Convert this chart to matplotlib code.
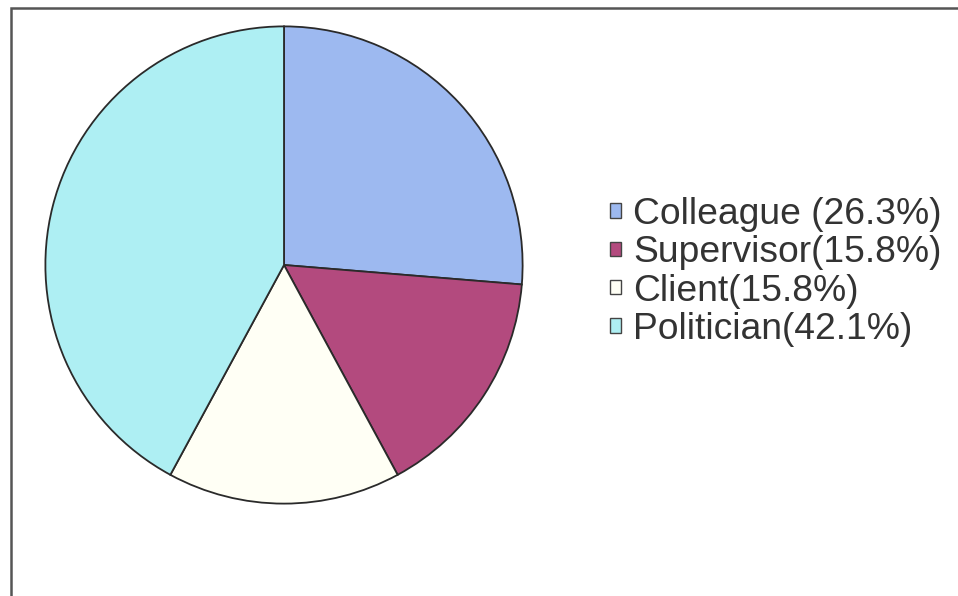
import matplotlib
matplotlib.use('Agg')
import matplotlib.pyplot as plt
from matplotlib.patches import Rectangle

plt.rcParams['font.family'] = ['Liberation Sans', 'DejaVu Sans']

# Data
categories = ['Colleague', 'Supervisor', 'Client', 'Politician']
shares = [26.3, 15.8, 15.8, 42.1]
legend_labels = ['Colleague (26.3%)', 'Supervisor(15.8%)', 'Client(15.8%)', 'Politician(42.1%)']
colors = ['#9DB9F0', '#B34A7E', '#FFFFF5', '#AEEFF3']

W, H = 958, 596
fig = plt.figure(figsize=(W / 100, H / 100), dpi=100)
fig.patch.set_facecolor('white')

# Pie axes placed by pixel box
cx, cy, r = 284, 265, 241
ax = fig.add_axes([(cx - r) / W, (H - cy - r) / H, 2 * r / W, 2 * r / H])
wedges, _ = ax.pie(
    shares, colors=colors, startangle=90, counterclock=False, radius=1.0,
    wedgeprops=dict(edgecolor='#2a2a2a', linewidth=1.3),
)
ax.set_xlim(-1.01, 1.01)
ax.set_ylim(-1.01, 1.01)
ax.set_aspect('equal')
ax.axis('off')

# Legend on the right
leg = fig.legend(
    wedges, legend_labels, loc='center left',
    bbox_to_anchor=(610 / W, 1 - 272 / H), frameon=False,
    fontsize=26.8, handlelength=0.29, handleheight=0.22, handletextpad=0.33,
    labelspacing=0.09, borderpad=0, borderaxespad=0,
)
for txt in leg.get_texts():
    txt.set_color('#333333')
for h in leg.legend_handles:
    h.set_linewidth(1.0)
    h.set_edgecolor('#444444')

# Chart frame (runs off the right and bottom edges)
fig.patches.append(Rectangle((11 / W, -0.05), 1.0, 1.05 - 8 / H,
                             transform=fig.transFigure, fill=False,
                             edgecolor='#555555', linewidth=1.8))

fig.savefig('out.png', dpi=100)
